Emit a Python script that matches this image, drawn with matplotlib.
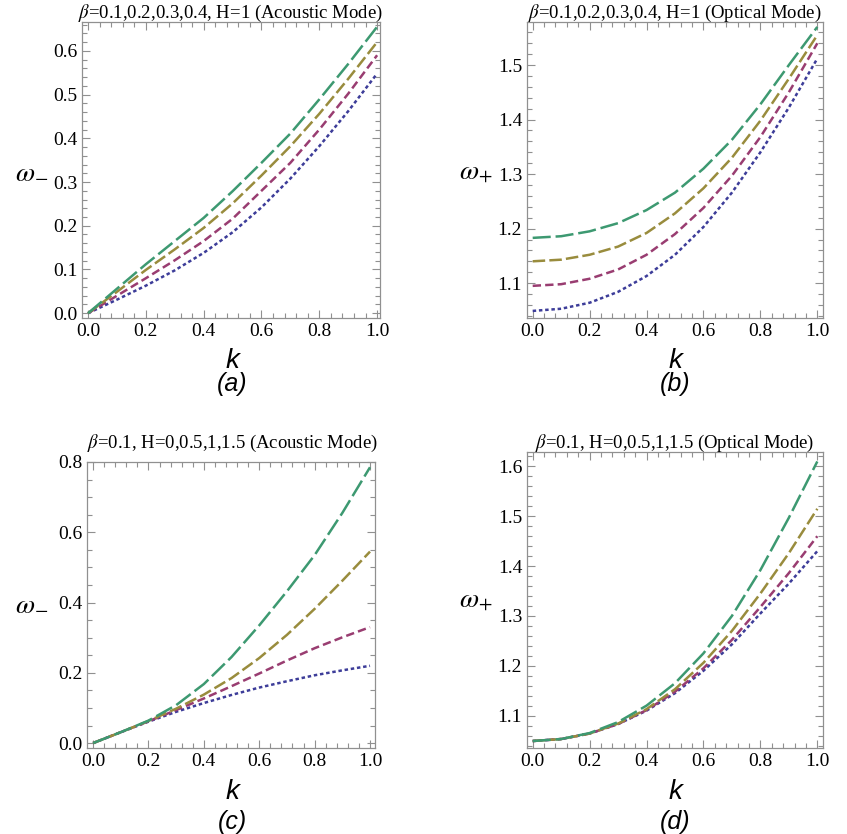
import numpy as np
import matplotlib
matplotlib.use("Agg")
import matplotlib.pyplot as plt
from matplotlib.ticker import MultipleLocator

plt.rcParams['font.family'] = ['Liberation Serif', 'DejaVu Serif']
plt.rcParams['mathtext.fontset'] = 'stix'
plt.rcParams['lines.scale_dashes'] = False

k = [0.0, 0.1, 0.2, 0.3, 0.4, 0.5, 0.6, 0.7, 0.8, 0.9, 1.0]

# (a) acoustic, H=1, beta = 0.1..0.4
acu_beta = [
    [0, 0.031, 0.063, 0.098, 0.138, 0.185, 0.242, 0.308, 0.382, 0.462, 0.548],
    [0, 0.040, 0.080, 0.121, 0.165, 0.216, 0.280, 0.344, 0.420, 0.502, 0.590],
    [0, 0.049, 0.099, 0.146, 0.195, 0.251, 0.315, 0.382, 0.456, 0.536, 0.620],
    [0, 0.056, 0.112, 0.165, 0.218, 0.279, 0.344, 0.411, 0.489, 0.570, 0.655],
]
# (b) optical, H=1, beta = 0.1..0.4
opt_beta = [
    [1.049, 1.053, 1.064, 1.084, 1.113, 1.152, 1.203, 1.266, 1.340, 1.422, 1.512],
    [1.095, 1.098, 1.108, 1.125, 1.152, 1.190, 1.238, 1.297, 1.368, 1.450, 1.540],
    [1.140, 1.143, 1.152, 1.167, 1.192, 1.228, 1.274, 1.330, 1.398, 1.475, 1.555],
    [1.183, 1.186, 1.195, 1.210, 1.234, 1.266, 1.310, 1.363, 1.428, 1.500, 1.570],
]
# (c) acoustic, beta=0.1, H = 0, 0.5, 1, 1.5
acu_h = [
    [0, 0.031, 0.061, 0.089, 0.114, 0.137, 0.158, 0.176, 0.193, 0.207, 0.220],
    [0, 0.031, 0.062, 0.094, 0.127, 0.162, 0.198, 0.235, 0.270, 0.301, 0.330],
    [0, 0.031, 0.063, 0.098, 0.138, 0.185, 0.242, 0.308, 0.382, 0.462, 0.545],
    [0, 0.031, 0.064, 0.108, 0.168, 0.245, 0.335, 0.432, 0.535, 0.655, 0.785],
]
# (d) optical, beta=0.1, H = 0, 0.5, 1, 1.5
opt_h = [
    [1.049, 1.053, 1.064, 1.083, 1.110, 1.145, 1.190, 1.243, 1.305, 1.365, 1.430],
    [1.049, 1.053, 1.064, 1.083, 1.111, 1.148, 1.195, 1.252, 1.318, 1.386, 1.460],
    [1.049, 1.053, 1.064, 1.084, 1.113, 1.153, 1.206, 1.270, 1.345, 1.426, 1.515],
    [1.049, 1.053, 1.065, 1.087, 1.120, 1.165, 1.225, 1.300, 1.392, 1.497, 1.610],
]

colors = ['#3d3d99', '#993d71', '#998c3d', '#3d9971']
dashes = [(2.5, 2.0), (6, 3), (9, 3), (13, 3.5)]
frame = '#909090'

W, H = 847, 834
fig = plt.figure(figsize=(W / 100, H / 100), dpi=100)


def px_axes(l, t, r, b):
    return fig.add_axes([l / W, 1 - b / H, (r - l) / W, (b - t) / H])


panels = [
    dict(box=(82, 22, 380, 318), data=acu_beta, xlim=(-0.021, 1.010), ylim=(-0.011, 0.666),
         ymaj=0.1, ymin=0.02, ylab=r'$\omega_{-}$', ylab_xy=(32, 172),
         title=r'$\beta$=0.1,0.2,0.3,0.4, H=1 (Acoustic Mode)', tit_xy=(230, 13),
         k_xy=(232, 361), tag='a', tag_xy=(232, 384)),
    dict(box=(527, 22, 823, 318), data=opt_beta, xlim=(-0.02, 1.02), ylim=(1.036, 1.579),
         ymaj=0.1, ymin=0.02, ylab=r'$\omega_{+}$', ylab_xy=(476, 172),
         title=r'$\beta$=0.1,0.2,0.3,0.4, H=1 (Optical Mode)', tit_xy=(675, 13),
         k_xy=(675, 361), tag='b', tag_xy=(675, 384)),
    dict(box=(87, 462, 375, 748), data=acu_h, xlim=(-0.022, 1.018), ylim=(-0.014, 0.80),
         ymaj=0.2, ymin=0.05, ylab=r'$\omega_{-}$', ylab_xy=(32, 604),
         title=r'$\beta$=0.1, H=0,0.5,1,1.5 (Acoustic Mode)', tit_xy=(232, 443),
         k_xy=(232, 792), tag='c', tag_xy=(232, 822)),
    dict(box=(527, 452, 823, 748), data=opt_h, xlim=(-0.02, 1.02), ylim=(1.035, 1.629),
         ymaj=0.1, ymin=0.02, ylab=r'$\omega_{+}$', ylab_xy=(476, 600),
         title=r'$\beta$=0.1, H=0,0.5,1,1.5 (Optical Mode)', tit_xy=(675, 443),
         k_xy=(675, 792), tag='d', tag_xy=(675, 822)),
]

for p in panels:
    ax = px_axes(*p['box'])
    for ys, c, d in zip(p['data'], colors, dashes):
        ln, = ax.plot(k, ys, color=c, lw=1.8)
        ln.set_dashes(d)
    ax.set_xlim(*p['xlim'])
    ax.set_ylim(*p['ylim'])
    ax.xaxis.set_major_locator(MultipleLocator(0.2))
    ax.xaxis.set_minor_locator(MultipleLocator(0.04))
    ax.yaxis.set_major_locator(MultipleLocator(p['ymaj']))
    ax.yaxis.set_minor_locator(MultipleLocator(p['ymin']))
    ax.xaxis.set_major_formatter(plt.FormatStrFormatter('%.1f'))
    ax.yaxis.set_major_formatter(plt.FormatStrFormatter('%.1f'))
    ax.tick_params(which='both', direction='in', top=True, right=True,
                   color=frame, labelsize=14, labelcolor='black', width=0.8)
    ax.tick_params(which='major', length=6)
    ax.tick_params(which='minor', length=3.5)
    for s in ax.spines.values():
        s.set_color(frame)
        s.set_linewidth(0.9)

    fig.text(p['tit_xy'][0] / W, 1 - p['tit_xy'][1] / H, p['title'],
             ha='center', va='center', fontsize=13.5)
    fig.text(p['ylab_xy'][0] / W, 1 - p['ylab_xy'][1] / H, p['ylab'],
             ha='center', va='center', fontsize=20)
    fig.text(p['k_xy'][0] / W, 1 - p['k_xy'][1] / H, 'k', family='Liberation Sans',
             style='italic', ha='center', va='center', fontsize=20)
    fig.text(p['tag_xy'][0] / W, 1 - p['tag_xy'][1] / H, '(' + p['tag'] + ')',
             family='Liberation Sans', style='italic', ha='center', va='center', fontsize=18)

fig.savefig('out.png', dpi=100)
